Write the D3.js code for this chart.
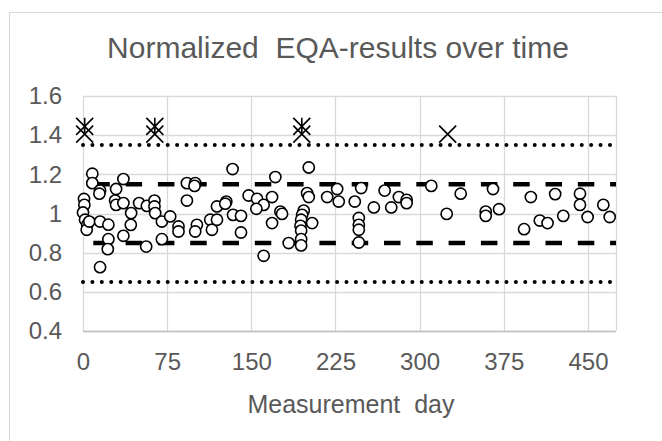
<!DOCTYPE html>
<html><head><meta charset="utf-8">
<script src="https://cdn.jsdelivr.net/npm/d3@7/dist/d3.min.js"></script>
<style>
html,body{margin:0;padding:0;background:#fff;}
svg text{font-family:"Liberation Sans",Arial,sans-serif;fill:#595959;}
</style></head>
<body>
<svg id="c" width="662" height="441"></svg>
<script>
// ---- data ----
const resultDays = [8.3,8.3,15.2,14.6,36,29.5,0.9,1.2,0,1.8,3.8,3.3,5.6,15.2,22.6,22.6,22.1,15.2,28.6,29.5,36,42.9,42.6,36,50,56.9,56.3,63.7,63.7,64.3,70.3,70.3,77.7,85.1,85.1,92.6,100,99.4,92.6,101.5,100,113.4,114.9,119.4,119.4,
133.3,171.4,201.2,147.6,155.1,161,168.5,154.5,127.7,126.8,133.7,140.8,140.8,175.9,177.4,168.5,161,183.3,199.7,201.2,196.7,195.3,194.4,193.8,194.4,194.4,194.4,204.2,217.6,226.5,227.9,242.2,245.8,245.8,245.8,245.8,
247.9,268.8,259.2,274.7,281.5,288.4,288.4,310.4,336.6,324.1,365.4,358.9,358.9,370.8,
399.1,393.1,407.1,414,420.8,428,442.9,442.9,449.7,463.7,469.4];
const resultValues = [1.203,1.155,1.117,1.101,1.176,1.125,1.074,1.044,1.005,0.968,0.943,0.917,0.959,0.959,0.943,0.869,0.818,0.726,1.066,1.044,1.053,1.002,0.942,0.886,1.053,1.039,0.831,1.066,1.036,1.002,0.959,0.869,0.985,0.934,0.908,1.155,1.155,1.141,1.066,0.942,0.908,0.968,0.917,1.036,0.968,
1.227,1.186,1.235,1.092,1.075,1.044,1.084,1.024,1.061,1.05,0.993,0.988,0.903,1.01,0.998,0.951,0.784,0.849,1.104,1.084,1.015,0.993,0.968,0.937,0.913,0.869,0.837,0.951,1.084,1.125,1.061,1.061,0.977,0.942,0.917,0.852,
1.13,1.117,1.031,1.031,1.084,1.07,1.053,1.141,1.101,0.998,1.125,1.01,0.988,1.022,
1.084,0.92,0.964,0.951,1.099,0.988,1.101,1.044,0.982,1.044,0.982];
const crossDays = [1.5,64,195,325];
const crossValues = [1.405,1.405,1.405,1.405];
const starDays = [1.5,64,195];
const starValues = [1.445,1.445,1.445];
const dottedLimits = [1.35,0.65];
const dashedLimits = [1.15,0.85];
const xTicks = [0,75,150,225,300,375,450];
const yTicks = [0.4,0.6,0.8,1.0,1.2,1.4,1.6];
const yTickLabels = ["0.4","0.6","0.8","1","1.2","1.4","1.6"];
const title = "Normalized\u00a0 EQA-results over time";
const xTitle = "Measurement\u00a0 day";

// ---- chart ----
const svg = d3.select("#c");
const L=83, R=616, T=96, B=331;
const x = d3.scaleLinear().domain([0,475]).range([L,R]);
const y = d3.scaleLinear().domain([0.4,1.6]).range([B,T]);

svg.append("rect").attr("x",9.5).attr("y",12.5).attr("width",700).attr("height",500)
  .attr("fill","#fff").attr("stroke","#d9d9d9").attr("stroke-width",1);

// gridlines
svg.append("g").selectAll("line").data(yTicks).join("line")
  .attr("x1",L).attr("x2",R).attr("y1",d=>Math.round(y(d))+0.5).attr("y2",d=>Math.round(y(d))+0.5)
  .attr("stroke","#d9d9d9").attr("stroke-width",1.3);
svg.append("g").selectAll("line").data(xTicks).join("line")
  .attr("y1",T).attr("y2",B).attr("x1",d=>Math.round(x(d))+0.5).attr("x2",d=>Math.round(x(d))+0.5)
  .attr("stroke","#d9d9d9").attr("stroke-width",1.3);
svg.append("line").attr("x1",R+0.5).attr("x2",R+0.5).attr("y1",T).attr("y2",B)
  .attr("stroke","#d9d9d9").attr("stroke-width",1.3);
svg.append("line").attr("x1",L).attr("x2",R).attr("y1",Math.round(y(0.4))+0.5).attr("y2",Math.round(y(0.4))+0.5)
  .attr("stroke","#bfbfbf").attr("stroke-width",1.3);

// axes
const xAxis = svg.append("g").attr("transform",`translate(0,${B})`)
  .call(d3.axisBottom(x).tickValues(xTicks).tickSize(0).tickPadding(22).tickFormat(d3.format("d")));
const yAxis = svg.append("g").attr("transform",`translate(${L},0)`)
  .call(d3.axisLeft(y).tickValues(yTicks).tickSize(0).tickPadding(21).tickFormat((d,i)=>yTickLabels[i]));
[xAxis,yAxis].forEach(g=>{g.select(".domain").remove();
  g.selectAll("text").attr("font-size",24).attr("font-family","Liberation Sans, Arial, sans-serif").attr("fill","#595959");});

// limit lines
svg.append("g").selectAll("line").data(dottedLimits).join("line")
  .attr("x1",x(0)).attr("x2",x(475)).attr("y1",d=>y(d)).attr("y2",d=>y(d))
  .attr("stroke","#000").attr("stroke-width",4).attr("stroke-linecap","round")
  .attr("stroke-dasharray","0.01,9.4");
svg.append("g").selectAll("line").data(dashedLimits).join("line")
  .attr("x1",x(0)).attr("x2",x(475)).attr("y1",d=>y(d)).attr("y2",d=>y(d))
  .attr("stroke","#000").attr("stroke-width",4.5)
  .attr("stroke-dasharray","16.5,15.8").attr("stroke-dashoffset",22);

// circles
svg.append("g").selectAll("circle").data(resultDays.map((d,i)=>[d,resultValues[i]])).join("circle")
  .attr("cx",d=>x(d[0])).attr("cy",d=>y(d[1])).attr("r",5.6)
  .attr("fill","#fff").attr("stroke","#000").attr("stroke-width",1.6);

// crosses
const s=8.5;
svg.append("g").selectAll("path").data(crossDays.map((d,i)=>[d,crossValues[i]])).join("path")
  .attr("d",d=>{const cx=x(d[0]),cy=y(d[1]);return `M${cx-s},${cy-s}L${cx+s},${cy+s}M${cx-s},${cy+s}L${cx+s},${cy-s}`;})
  .attr("stroke","#000").attr("stroke-width",1.6).attr("fill","none");
svg.append("g").selectAll("path").data(starDays.map((d,i)=>[d,starValues[i]])).join("path")
  .attr("d",d=>{const cx=x(d[0]),cy=y(d[1]);return `M${cx-s},${cy-s}L${cx+s},${cy+s}M${cx-s},${cy+s}L${cx+s},${cy-s}M${cx},${cy-s}L${cx},${cy+s}`;})
  .attr("stroke","#000").attr("stroke-width",1.6).attr("fill","none");

// titles
svg.append("text").attr("x",338).attr("y",58).attr("text-anchor","middle")
  .attr("font-size",30).text(title);
svg.append("text").attr("x",351).attr("y",413).attr("text-anchor","middle")
  .attr("font-size",25).text(xTitle);
</script>
</body></html>
